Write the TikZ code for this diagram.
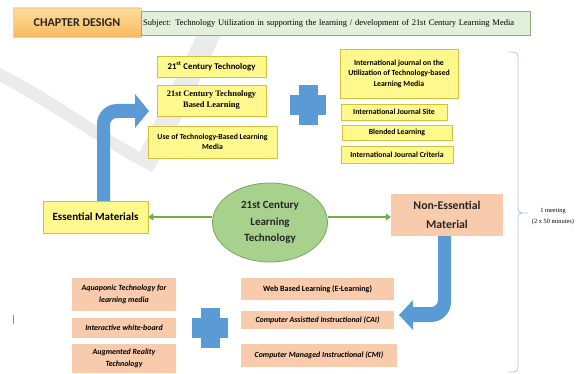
\documentclass[tikz,border=0pt]{standalone}
\usepackage{fontspec}
\setmainfont{Carlito}
\newfontfamily\timesfont{Liberation Serif}
\usetikzlibrary{arrows.meta,shapes.geometric}

\definecolor{boxyellow}{HTML}{FFF88C}
\definecolor{boxgold}{HTML}{D9BE3A}
\definecolor{salmon}{HTML}{F8CBAD}
\definecolor{leafgreen}{HTML}{A9D18E}
\definecolor{darkleaf}{HTML}{78A85A}
\definecolor{arrowgreen}{HTML}{70AD47}
\definecolor{flatblue}{HTML}{5B9BD5}
\definecolor{paleblue}{HTML}{A9C9E8}
\definecolor{subjgreen}{HTML}{E2EFDA}
\definecolor{subjedge}{HTML}{8FA886}
\definecolor{chaplight}{HTML}{FFDC9C}
\definecolor{chapdark}{HTML}{F7BB60}

\tikzset{
  yellowbox/.style={draw=boxgold, fill=boxyellow, line width=0.6pt, align=center,
    inner sep=1pt, font=\bfseries\fontsize{7.8}{10.5}\selectfont},
  peachbox/.style={fill=salmon, align=center, inner sep=1pt,
    font=\bfseries\itshape\fontsize{7.9}{12}\selectfont},
  garrow/.style={draw=arrowgreen, line width=1.8pt, -{Triangle[length=5pt,width=7pt]}},
  crossmark/.pic={
    \fill[flatblue] (-9.5,-20) rectangle (9.5,20);
    \fill[flatblue] (-18,-10) rectangle (18,10);
  },
}

\begin{document}
\begin{tikzpicture}[x=1pt, y=-1pt]
  \useasboundingbox (0,0) rectangle (578,374);
  % faint swoosh in the back
  \fill[black!8] (0,68) .. controls (45,90) and (100,130) .. (140,152)
    .. controls (160,110) and (180,70) .. (197,35) -- (221,35)
    .. controls (200,80) and (175,135) .. (152,172)
    .. controls (100,145) and (45,105) .. (0,82) -- cycle;

  % header
  \node [top color=chaplight, bottom color=chapdark, draw=chapdark!70, minimum width=128pt,
    minimum height=29pt, font=\bfseries\fontsize{12}{13}\selectfont, text=black!85] (chap) at (77,22.5) {CHAPTER DESIGN};
  \node [draw=subjedge, fill=subjgreen, anchor=west, text width=385pt, inner sep=2pt,
    minimum height=24pt, align=left, font=\timesfont\fontsize{8.5}{10}\selectfont] (subj) at (141,23)
    {Subject: Technology Utilization in supporting the learning / development of 21st Century Learning Media};

  % upper boxes
  \node [yellowbox, minimum width=109pt, minimum height=21pt, font=\bfseries\fontsize{8.8}{10}\selectfont] (tech21) at (211.5,66.5) {21\textsuperscript{st} Century Technology};
  \node [yellowbox, minimum width=109pt, minimum height=31pt, font=\timesfont\bfseries\fontsize{8.4}{11}\selectfont] (techlearn) at (211.5,100.5) {21st Century Technology\\Based Learning};
  \node [yellowbox, minimum width=129pt, minimum height=32pt] (usetech) at (212.5,142) {Use of Technology-Based Learning\\Media};
  \node [yellowbox, minimum width=118pt, minimum height=49pt] (journal) at (399,73.5) {International journal on the\\Utilization of Technology-based\\Learning Media};
  \node [yellowbox, minimum width=106pt, minimum height=16pt] (site) at (394,112) {International Journal Site};
  \node [yellowbox, minimum width=110pt, minimum height=15pt] (blended) at (397,132.5) {Blended Learning};
  \node [yellowbox, minimum width=112pt, minimum height=17pt] (criteria) at (397,154.5) {International Journal Criteria};
  \pic at (308,105) {crossmark};

  % middle row
  \node [yellowbox, minimum width=105pt, minimum height=32pt, font=\bfseries\fontsize{11}{12}\selectfont] (ess) at (95.5,217) {Essential Materials};
  \node [ellipse, draw=darkleaf, fill=leafgreen, line width=0.8pt, minimum width=115pt, minimum height=79pt,
    inner sep=0pt, align=center, font=\bfseries\fontsize{11}{16.5}\selectfont, text=black!85] (tech) at (270,222.5) {21st Century\\Learning\\Technology};
  \node [fill=salmon, minimum width=112pt, minimum height=42pt, align=center,
    font=\bfseries\fontsize{11.8}{19}\selectfont, text=black!85] (noness) at (447,215) {Non-Essential\\Material};
  \draw [garrow] (tech.west |- ess.east) -- (ess.east);
  \draw [garrow] (tech.east |- ess.east) -- (noness.west |- ess.east);

  % bent arrows
  \fill[flatblue] (97,201) -- (97,124) arc (180:270:20) -- (135,104) -- (135,94) -- (149,111)
    -- (135,128) -- (135,118) -- (117,118) arc (270:180:7) -- (110,201) -- cycle;
  \fill[flatblue] (438,236) -- (438,300) arc (0:90:7) -- (413,307) -- (413,300) -- (399,315)
    -- (413,330) -- (413,322) -- (431,322) arc (90:0:20) -- (451,236) -- cycle;

  % lower boxes
  \node [peachbox, minimum width=104pt, minimum height=33pt] (aqua) at (124,294.5) {Aquaponic Technology for\\learning media};
  \node [peachbox, minimum width=104pt, minimum height=20pt] (board) at (124,328) {Interactive white-board};
  \node [peachbox, minimum width=104pt, minimum height=29pt] (augm) at (124,358.5) {Augmented Reality\\Technology};
  \pic at (210,327.5) {crossmark};
  \node [peachbox, minimum width=153pt, minimum height=22pt, font=\bfseries\fontsize{8}{12}\selectfont] (web) at (317.5,289) {Web Based Learning (E-Learning)};
  \node [peachbox, minimum width=153pt, minimum height=18pt] (cai) at (317.5,320) {Computer Assistted Instructional (CAI)};
  \node [peachbox, minimum width=156pt, minimum height=23pt] (cmi) at (319,355.5) {Computer Managed Instructional (CMI)};

  % brace and time
  \draw [paleblue, line width=0.8pt] (508,52) .. controls (518,52) .. (518,62) -- (518,206)
    .. controls (518,213) .. (528,213) .. controls (518,213) .. (518,220) -- (518,362)
    .. controls (518,372) .. (508,372);
  \node [align=center, font=\timesfont\fontsize{6.4}{11}\selectfont] (meet) at (553,216.5) {1 meeting\\(2 x 50 minutes)};
  \draw [black!45, line width=0.9pt] (13,315) -- (13,324);
\end{tikzpicture}
\end{document}
